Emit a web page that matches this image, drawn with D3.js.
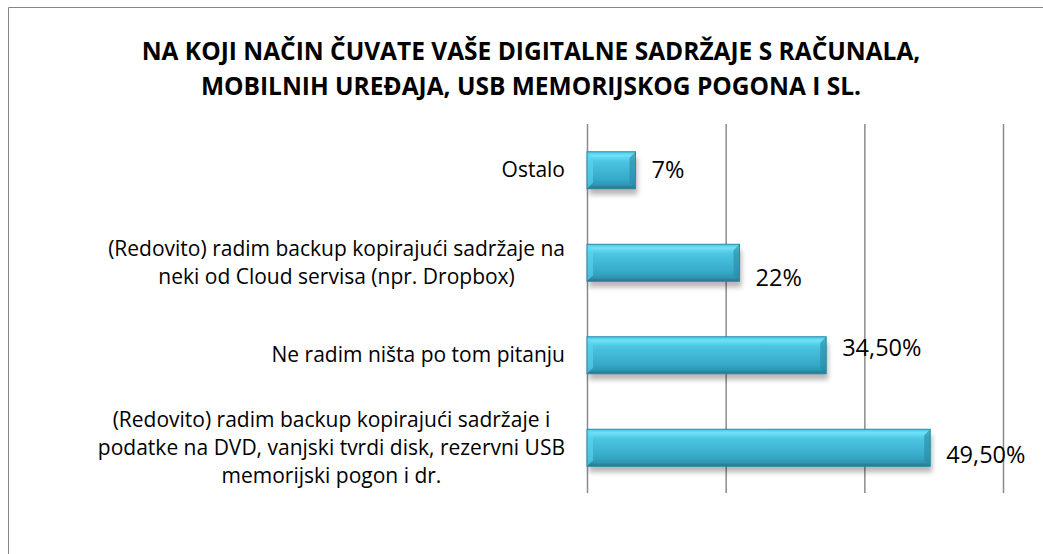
<!DOCTYPE html>
<html>
<head>
<meta charset="utf-8">
<script src="https://cdn.jsdelivr.net/npm/d3@7"></script>
<style>
  body { margin: 0; background: #fff; }
  text { font-family: "Open Sans", sans-serif; fill: #000; }
</style>
</head>
<body>
<svg id="chart" width="1043" height="554"></svg>
<script>
// podaci
var titleLines = ["NA KOJI NAČIN ČUVATE VAŠE DIGITALNE SADRŽAJE S RAČUNALA,",
                  "MOBILNIH UREĐAJA, USB MEMORIJSKOG POGONA I SL."];
var categories = [
  ["Ostalo"],
  ["(Redovito) radim backup kopirajući sadržaje na", "neki od Cloud servisa (npr. Dropbox)"],
  ["Ne radim ništa po tom pitanju"],
  ["(Redovito) radim backup kopirajući sadržaje i", "podatke na DVD, vanjski tvrdi disk, rezervni USB", "memorijski pogon i dr."]
];
var values = [7, 22, 34.5, 49.5];
var valueLabels = ["7%", "22%", "34,50%", "49,50%"];
var gridTicks = [0, 20, 40, 60];

var svg = d3.select("#chart");

// okvir
svg.append("path")
    .attr("d", "M8.5,554 L8.5,7.5 L1043,7.5")
    .attr("fill", "none")
    .attr("stroke", "#868686")
    .attr("stroke-width", 1);

// naslov
svg.append("g").selectAll("text")
  .data(titleLines)
  .enter().append("text")
    .attr("x", 531)
    .attr("y", function(d, i) { return 60 + i * 35; })
    .attr("text-anchor", "middle")
    .style("font-weight", "bold")
    .style("font-size", "24.5px")
    .text(function(d) { return d; });

var x = d3.scaleLinear().domain([0, 60]).range([587, 1003]);
var y = d3.scaleBand().domain(d3.range(categories.length))
    .range([124, 494]).paddingInner(0.6).paddingOuter(0.3);

var defs = svg.append("defs");
var grad = defs.append("linearGradient").attr("id", "barGrad")
    .attr("x1", 0).attr("y1", 0).attr("x2", 0).attr("y2", 1);
grad.append("stop").attr("offset", "0%").attr("stop-color", "#46c9e6");
grad.append("stop").attr("offset", "10%").attr("stop-color", "#6fe2f7");
grad.append("stop").attr("offset", "25%").attr("stop-color", "#4cc6e2");
grad.append("stop").attr("offset", "75%").attr("stop-color", "#35a9c8");
grad.append("stop").attr("offset", "90%").attr("stop-color", "#2f96b4");
grad.append("stop").attr("offset", "100%").attr("stop-color", "#256f86");

var shadow = defs.append("filter").attr("id", "shadow")
    .attr("x", "-10%").attr("y", "-20%").attr("width", "120%").attr("height", "160%");
shadow.append("feGaussianBlur").attr("stdDeviation", 2.5);

// mreža
svg.append("g").selectAll("line")
  .data(gridTicks)
  .enter().append("line")
    .attr("x1", function(d) { return x(d) + 0.5; })
    .attr("x2", function(d) { return x(d) + 0.5; })
    .attr("y1", 124)
    .attr("y2", 493)
    .attr("stroke", "#8c8c8c")
    .attr("stroke-width", 1.5);

var bars = svg.append("g").selectAll("g")
  .data(values)
  .enter().append("g");

// sjena
bars.append("rect")
    .attr("x", x(0) + 2)
    .attr("y", function(d, i) { return y(i) + 6; })
    .attr("width", function(d) { return x(d) - x(0); })
    .attr("height", y.bandwidth())
    .attr("fill", "#000")
    .attr("opacity", 0.28)
    .attr("filter", "url(#shadow)");

bars.append("rect")
    .attr("x", x(0))
    .attr("y", function(d, i) { return y(i); })
    .attr("width", function(d) { return x(d) - x(0); })
    .attr("height", y.bandwidth())
    .attr("fill", "url(#barGrad)");

// kosi rubovi
var bev = 6;
bars.append("path")
    .attr("d", function(d, i) {
      var x0 = x(0), y0 = y(i), y1 = y(i) + y.bandwidth();
      return "M" + x0 + "," + y0 + "L" + (x0 + bev) + "," + (y0 + bev) +
             "L" + (x0 + bev) + "," + (y1 - bev) + "L" + x0 + "," + y1 + "Z";
    })
    .attr("fill", "#5fd6ee").attr("opacity", 0.6);
bars.append("path")
    .attr("d", function(d, i) {
      var x1 = x(d), y0 = y(i), y1 = y(i) + y.bandwidth();
      return "M" + x1 + "," + y0 + "L" + (x1 - bev) + "," + (y0 + bev) +
             "L" + (x1 - bev) + "," + (y1 - bev) + "L" + x1 + "," + y1 + "Z";
    })
    .attr("fill", "#2a88a3").attr("opacity", 0.6);
bars.append("rect")
    .attr("x", x(0))
    .attr("y", function(d, i) { return y(i); })
    .attr("width", function(d) { return x(d) - x(0); })
    .attr("height", y.bandwidth())
    .attr("fill", "none")
    .attr("stroke", "#2b8aa5")
    .attr("stroke-width", 1);

// oznake vrijednosti (Excel ih je razmjestio malo gore/dolje)
var labelDy = [0, 15, -7, 7];
svg.append("g").selectAll("text")
  .data(values)
  .enter().append("text")
    .attr("x", function(d) { return x(d) + 16; })
    .attr("y", function(d, i) { return y(i) + y.bandwidth() / 2 + labelDy[i] + 8; })
    .style("font-size", "23.5px")
    .text(function(d, i) { return valueLabels[i]; });

// kategorije
var catG = svg.append("g").selectAll("text")
  .data(categories)
  .enter().append("text")
    .style("font-size", "21px")
    .attr("text-anchor", "middle");

catG.each(function(lines, i) {
  var t = d3.select(this);
  var lh = 28;
  var cy = y(i) + y.bandwidth() / 2;
  var top = cy - (lines.length - 1) * lh / 2 + 7;
  lines.forEach(function(l, j) {
    t.append("tspan").attr("x", 0).attr("y", top + j * lh).text(l);
  });
  var w = this.getBBox().width;
  t.selectAll("tspan").attr("x", 565 - w / 2);
});
</script>
</body>
</html>
